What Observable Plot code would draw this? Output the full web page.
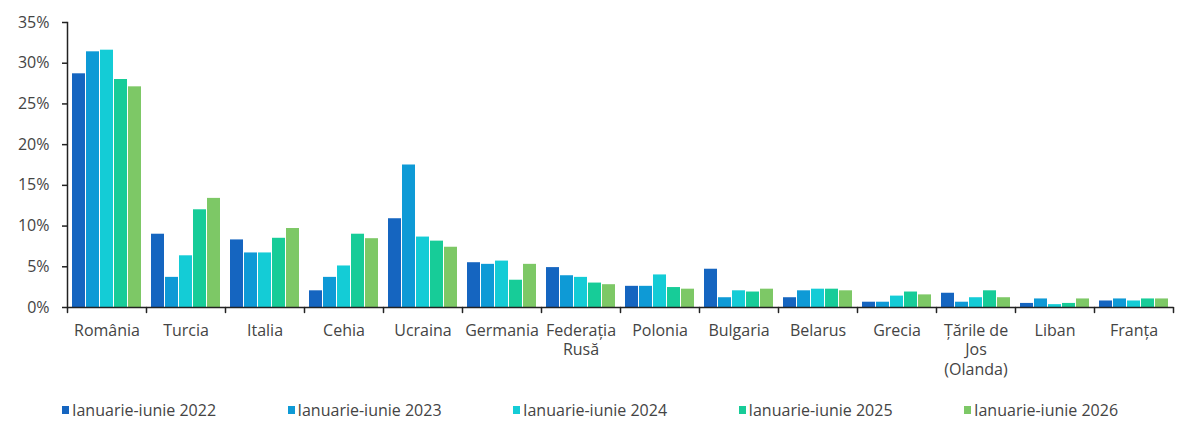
<!DOCTYPE html>
<html>
<head>
<meta charset="utf-8">
<script src="https://cdn.jsdelivr.net/npm/d3@7"></script>
<script src="https://cdn.jsdelivr.net/npm/@observablehq/plot@0.6"></script>
<style>
  body { margin: 0; background: #fff; font-family: "Open Sans", Lato, sans-serif; }
  #wrap { position: relative; width: 1200px; height: 442px; overflow: hidden; }
  #legend { position: absolute; left: 0; top: 398px; width: 1200px; height: 24px; }
  .item { position: absolute; top: 0; display: flex; align-items: center; height: 24px; font-size: 16px; color: #444; white-space: nowrap; }
  .sw { width: 7px; height: 8px; margin-right: 3px; }
</style>
</head>
<body>
<div id="wrap">
  <div id="chart"></div>
  <div id="legend"></div>
</div>
<script>
const countries = ["România","Turcia","Italia","Cehia","Ucraina","Germania","Federația Rusă","Polonia","Bulgaria","Belarus","Grecia","Țările de Jos (Olanda)","Liban","Franța"];
const tickLabels = ["România","Turcia","Italia","Cehia","Ucraina","Germania","Federația\nRusă","Polonia","Bulgaria","Belarus","Grecia","Țările de\nJos\n(Olanda)","Liban","Franța"];
const years = ["Ianuarie-iunie 2022","Ianuarie-iunie 2023","Ianuarie-iunie 2024","Ianuarie-iunie 2025","Ianuarie-iunie 2026"];
const colors = ["#1565c0","#0e9ad6","#14ccd6","#17cc98","#7dc866"];
const v2022 = [28.7, 9.0, 8.3, 2.05, 10.9, 5.5, 4.9, 2.6, 4.7, 1.2, 0.65, 1.75, 0.5, 0.8];
const v2023 = [31.4, 3.7, 6.7, 3.7, 17.5, 5.3, 3.9, 2.6, 1.2, 2.05, 0.65, 0.65, 1.05, 1.05];
const v2024 = [31.6, 6.35, 6.7, 5.1, 8.65, 5.7, 3.7, 4.0, 2.05, 2.25, 1.4, 1.2, 0.35, 0.8];
const v2025 = [28.0, 12.0, 8.5, 9.0, 8.15, 3.35, 3.0, 2.45, 1.9, 2.25, 1.9, 2.05, 0.5, 1.05];
const v2026 = [27.1, 13.4, 9.7, 8.45, 7.4, 5.3, 2.8, 2.25, 2.25, 2.05, 1.55, 1.2, 1.05, 1.05];
const yTicks = [0, 5, 10, 15, 20, 25, 30, 35];

const series = [v2022, v2023, v2024, v2025, v2026];
const data = countries.flatMap((c, i) => years.map((y, j) => ({country: c, year: y, value: series[j][i]})));
const labelOf = new Map(countries.map((c, i) => [c, tickLabels[i]]));

const tickShape = { draw(context, l) { context.moveTo(0, 0); context.lineTo(0, -l); } };
const axisColor = "#222";

const chart = Plot.plot({
  width: 1200,
  height: 392,
  marginLeft: 63,
  marginRight: 24,
  marginTop: 22,
  marginBottom: 85,
  style: { fontFamily: "'Open Sans', Lato, sans-serif", color: "#444", background: "#fff" },
  fx: { domain: countries, padding: 0, axis: null, label: null },
  x: { domain: years, paddingInner: 0.07, paddingOuter: 0.3, axis: null },
  y: { domain: [0, 35], label: null },
  color: { domain: years, range: colors },
  marks: [
    Plot.barY(data, { fx: "country", x: "year", y: "value", fill: "year" }),
    Plot.ruleY([0], { stroke: axisColor, strokeWidth: 1.5 }),
    Plot.frame({ anchor: "left", facetAnchor: "left", stroke: axisColor, strokeWidth: 1.5 }),
    Plot.vector(countries, { fx: d => d, frameAnchor: "bottom-left", length: 5, rotate: 180, anchor: "start", shape: tickShape, stroke: axisColor, strokeWidth: 1.5 }),
    Plot.vector([countries[countries.length - 1]], { fx: d => d, frameAnchor: "bottom-right", length: 5, rotate: 180, anchor: "start", shape: tickShape, stroke: axisColor, strokeWidth: 1.5 }),
    Plot.text(countries, { fx: d => d, text: d => labelOf.get(d), frameAnchor: "bottom", lineAnchor: "top", dy: 14, lineHeight: 1.24, fontSize: 16, fill: "#444" }),
    Plot.axisY({ ticks: yTicks, tickFormat: d => d + "%", tickSize: 5, tickPadding: 13, fontSize: 16, stroke: axisColor, strokeWidth: 1.5, fill: "#444", label: null })
  ]
});
document.getElementById("chart").appendChild(chart);

const legend = document.getElementById("legend");
years.forEach((y, j) => {
  const item = document.createElement("div");
  item.className = "item";
  item.style.left = (62 + j * 225.5) + "px";
  const sw = document.createElement("span");
  sw.className = "sw";
  sw.style.background = colors[j];
  const t = document.createElement("span");
  t.textContent = y;
  item.appendChild(sw);
  item.appendChild(t);
  legend.appendChild(item);
});
</script>
</body>
</html>
